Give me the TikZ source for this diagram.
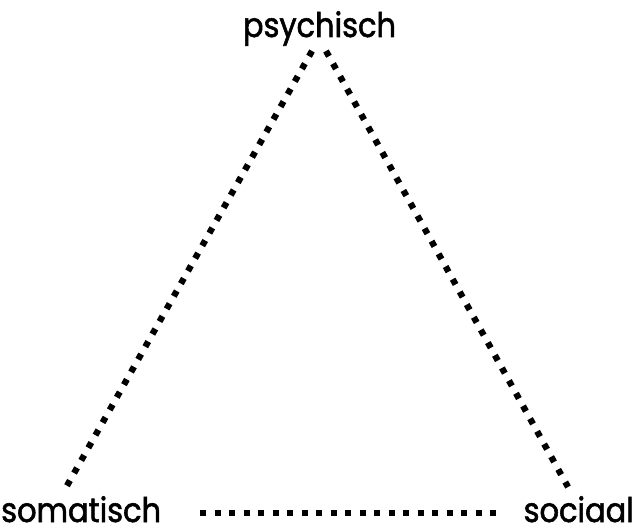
\documentclass[tikz,border=0pt]{standalone}
\usepackage{fontspec}
\setmainfont{Poppins}[FakeStretch=0.9,FakeBold=1.6]
\begin{document}
\begin{tikzpicture}[x=1bp,y=-1bp,
  lbl/.style={inner sep=0pt,font=\fontsize{34}{40}\selectfont},
  dotline/.style={line width=6.3bp,dash pattern=on 6bp off 8.5bp,line cap=butt}]
\useasboundingbox (0,0) rectangle (636,528);
\node[lbl,anchor=base] (psy) at (319.5,37) {psychisch};
\node[lbl,anchor=base west] (som) at (1,522) {somatisch};
\node[lbl,anchor=base east] (soc) at (634,522) {sociaal};
\coordinate (tl) at (312,51);
\coordinate (tr) at (326,51);
\coordinate (bl) at (64,491);
\coordinate (br) at (568,487);
\coordinate (hl) at (200,513);
\coordinate (hr) at (503,513);
\draw[dotline] (tl) -- (bl);
\draw[dotline] (tr) -- (br);
\draw[dotline] (hl) -- (hr);
\end{tikzpicture}
\end{document}
